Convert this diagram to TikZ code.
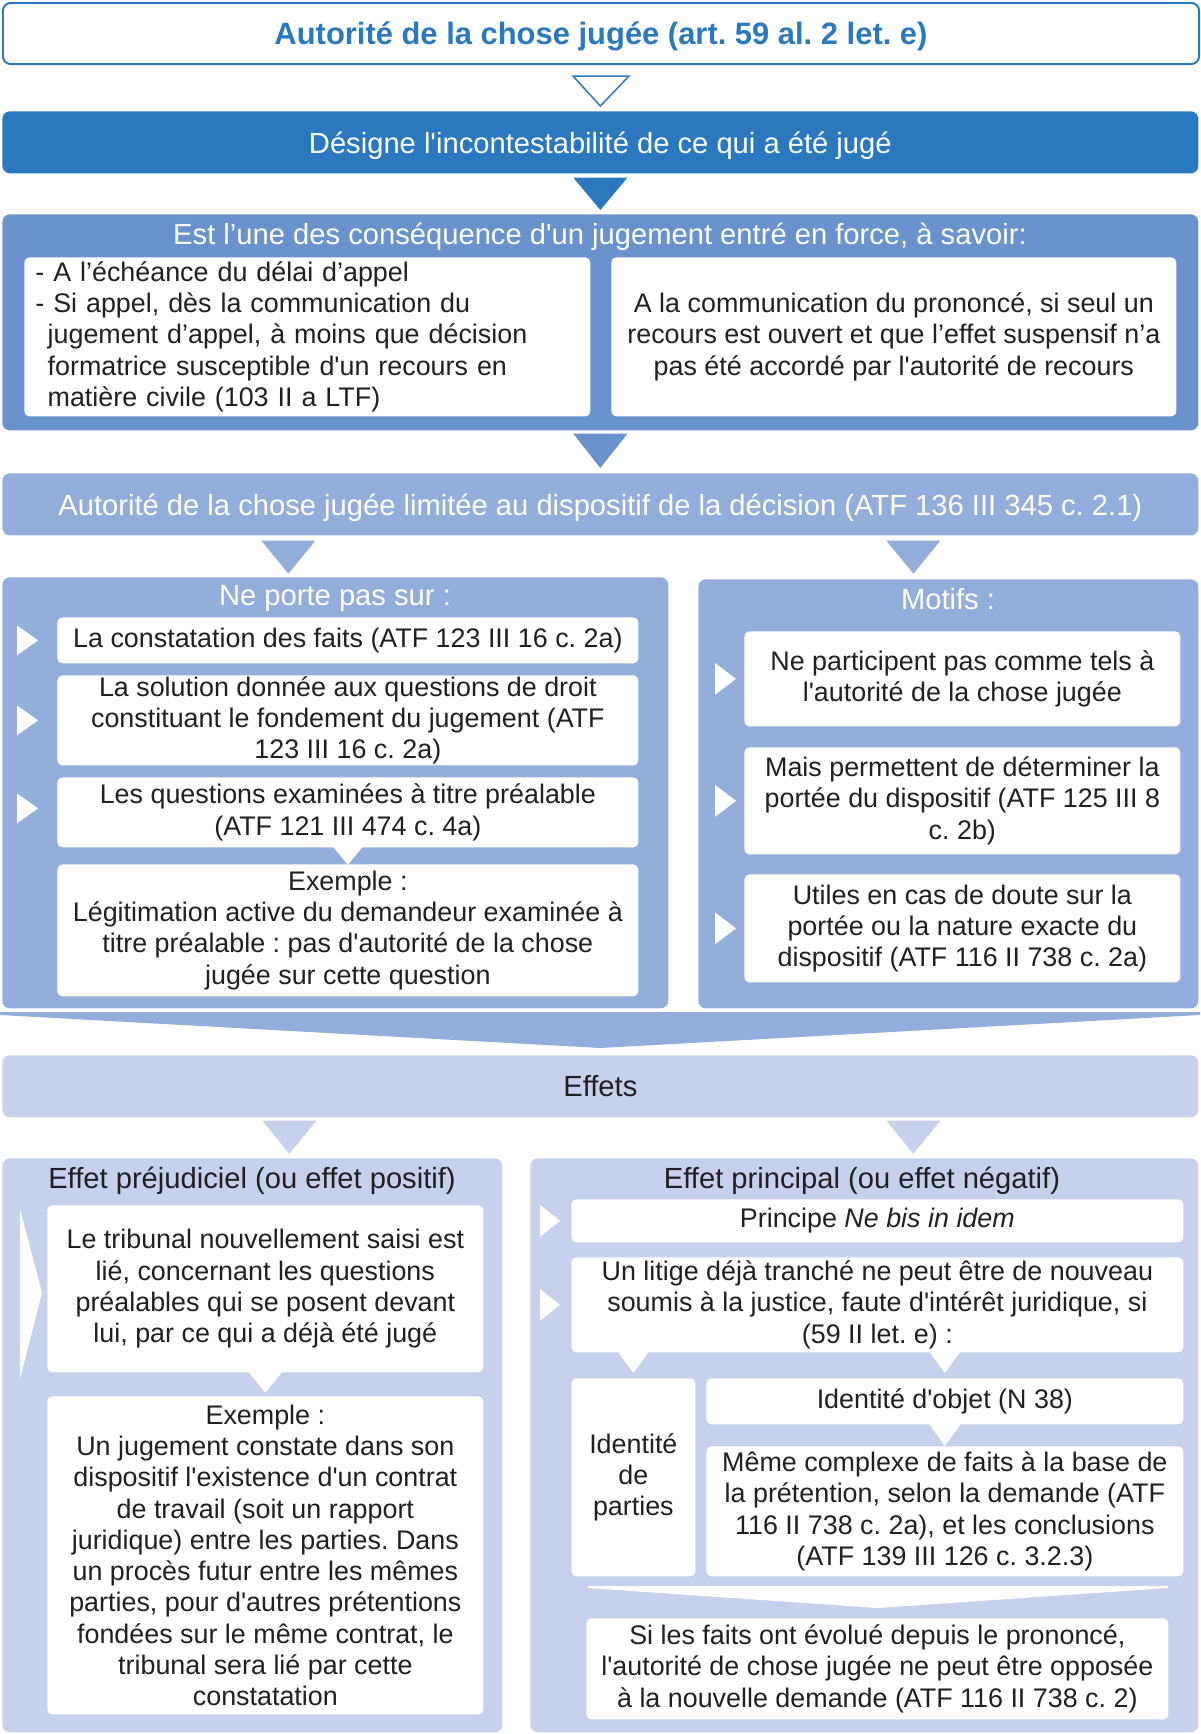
\documentclass[tikz,border=0pt]{standalone}
\usepackage{fontspec}
\setmainfont{Liberation Sans}[Ligatures=TeXOff]
\usepackage{tikz}
\frenchspacing
\newdimen\ux
\ux=0.02cm
\definecolor{deepblue}{HTML}{2A79BE}
\definecolor{midblue}{HTML}{6A92CD}
\definecolor{paleblue}{HTML}{94AEDB}
\definecolor{mistblue}{HTML}{C6D2EB}
\definecolor{ink}{HTML}{231F20}

\begin{document}
\begin{tikzpicture}[x=0.02cm,y=-0.02cm,font=\fontsize{15.3}{17.8}\selectfont,text=ink,
            head/.style={font=\fontsize{16.6}{20}\selectfont},
            whitebox/.style={fill=white,rounded corners=0.1cm,inner sep=0pt,anchor=north west,align=center},
            panel/.style={rounded corners=0.15cm,inner sep=0pt,anchor=north west},
            bar/.style={panel,head,align=center,text depth=0pt,minimum width=1196\ux,minimum height=62\ux}]
            \useasboundingbox (0,0) rectangle (1200,1734);
            \node[bar,minimum height=61\ux,fill=white,draw=deepblue,line width=0.04cm,text=deepblue,font=\fontsize{17.6}{20}\selectfont\bfseries](Title)at(2, 2){Autorité de la chose jugée (art. 59 al. 2 let. e)};
            \node[bar,fill=deepblue,text=white](Desig)at(2, 111){Désigne l'incontestabilité de ce qui a été jugé};
            \node[panel,fill=midblue,minimum width=1196\ux,minimum height=216\ux](Cons)at(2, 214){};
            \node[head,text=white](ConsT)at(600, 237){Est l’une des conséquence d'un jugement entré en force, à savoir:};
            \node[whitebox,align=left,text width=544\ux,inner xsep=11\ux,minimum height=159\ux](ConsL)at(24, 257){- A l’échéance du délai d’appel\\- Si appel, dès la communication du\\\hspace*{7pt}jugement d’appel, à moins que décision\\\hspace*{7pt}formatrice susceptible d'un recours en\\\hspace*{7pt}matière civile (103 II a LTF)};
            \node[whitebox,minimum width=565\ux,minimum height=159\ux](ConsR)at(611, 257){A la communication du prononcé, si seul un\\recours est ouvert et que l’effet suspensif n’a\\pas été accordé par l'autorité de recours};
            \node[bar,fill=paleblue,text=white](Limit)at(2, 473){Autorité de la chose jugée limitée au dispositif de la décision (ATF 136 III 345 c. 2.1)};
            \node[panel,fill=paleblue,minimum width=666\ux,minimum height=431\ux](Porte)at(2, 577){};
            \node[head,text=white](PorteT)at(335, 598){Ne porte pas sur :};
            \node[whitebox,minimum width=581\ux,minimum height=46\ux](P1)at(57, 617){La constatation des faits (ATF 123 III 16 c. 2a)};
            \node[whitebox,minimum width=581\ux,minimum height=90\ux](P2)at(57, 675){La solution donnée aux questions de droit\\constituant le fondement du jugement (ATF\\123 III 16 c. 2a)};
            \node[whitebox,minimum width=581\ux,minimum height=70\ux](P3)at(57, 777){Les questions examinées à titre préalable\\(ATF 121 III 474 c. 4a)};
            \node[whitebox,minimum width=581\ux,minimum height=132\ux](P4)at(57, 864){Exemple :\\Légitimation active du demandeur examinée à\\titre préalable : pas d'autorité de la chose\\jugée sur cette question};
            \node[panel,fill=paleblue,minimum width=500\ux,minimum height=429\ux](Motifs)at(698, 579){};
            \node[head,text=white](MotifsT)at(948, 599){Motifs :};
            \node[whitebox,minimum width=436\ux,minimum height=95\ux](M1)at(744, 631){Ne participent pas comme tels à\\l'autorité de la chose jugée};
            \node[whitebox,minimum width=436\ux,minimum height=107\ux](M2)at(744, 747){Mais permettent de déterminer la\\portée du dispositif (ATF 125 III 8\\c. 2b)};
            \node[whitebox,minimum width=436\ux,minimum height=108\ux](M3)at(744, 874){Utiles en cas de doute sur la\\portée ou la nature exacte du\\dispositif (ATF 116 II 738 c. 2a)};
            \node[bar,fill=mistblue](Effets)at(2, 1055){Effets};
            \node[panel,fill=mistblue,minimum width=500\ux,minimum height=574\ux](Prej)at(2, 1158){};
            \node[head](PrejT)at(252, 1181){Effet préjudiciel (ou effet positif)};
            \node[whitebox,minimum width=436\ux,minimum height=167\ux](E1)at(47, 1205){Le tribunal nouvellement saisi est\\lié, concernant les questions\\préalables qui se posent devant\\lui, par ce qui a déjà été jugé};
            \node[whitebox,minimum width=436\ux,minimum height=318\ux](E2)at(47, 1396){Exemple :\\Un jugement constate dans son\\dispositif l'existence d'un contrat\\de travail (soit un rapport\\juridique) entre les parties. Dans\\un procès futur entre les mêmes\\parties, pour d'autres prétentions\\fondées sur le même contrat, le\\tribunal sera lié par cette\\constatation};
            \node[panel,fill=mistblue,minimum width=668\ux,minimum height=574\ux](Princ)at(530, 1158){};
            \node[head](PrincT)at(862, 1181){Effet principal (ou effet négatif)};
            \node[whitebox,minimum width=612\ux,minimum height=43\ux](Q1)at(571, 1199){Principe \textit{Ne bis in idem}};
            \node[whitebox,minimum width=612\ux,minimum height=95\ux](Q2)at(571, 1257){Un litige déjà tranché ne peut être de nouveau\\soumis à la justice, faute d'intérêt juridique, si\\(59 II let. e) :};
            \node[whitebox,minimum width=124\ux,minimum height=198\ux](Q3)at(571, 1378){Identité\\de\\parties};
            \node[whitebox,minimum width=477\ux,minimum height=46\ux](Q4)at(706, 1378){Identité d'objet (N 38)};
            \node[whitebox,minimum width=477\ux,minimum height=130\ux](Q5)at(706, 1446){Même complexe de faits à la base de\\la prétention, selon la demande (ATF\\116 II 738 c. 2a), et les conclusions\\(ATF 139 III 126 c. 3.2.3)};
            \node[whitebox,minimum width=582\ux,minimum height=101\ux](Q6)at(586, 1618){Si les faits ont évolué depuis le prononcé,\\l'autorité de chose jugée ne peut être opposée\\à la nouvelle demande (ATF 116 II 738 c. 2)};
            \filldraw[fill=white,draw=deepblue,line width=0.03cm]([xshift=-28\ux,yshift=-11\ux]Title.south) -- ([xshift=28\ux,yshift=-11\ux]Title.south) -- ([yshift=5\ux]Desig.north) -- cycle;
            \fill[deepblue]([xshift=-27\ux,yshift=-4\ux]Desig.south) -- ([xshift=27\ux,yshift=-4\ux]Desig.south) -- ([yshift=4\ux]Cons.north) -- cycle;
            \fill[midblue]([xshift=-27\ux,yshift=-3\ux]Cons.south) -- ([xshift=27\ux,yshift=-3\ux]Cons.south) -- ([yshift=5\ux]Limit.north) -- cycle;
            \fill[paleblue]([xshift=-339\ux,yshift=-5\ux]Limit.south) -- ([xshift=-285\ux,yshift=-5\ux]Limit.south) -- ([xshift=-312\ux,yshift=-38\ux]Limit.south) -- cycle;
            \fill[paleblue]([xshift=286\ux,yshift=-5\ux]Limit.south) -- ([xshift=340\ux,yshift=-5\ux]Limit.south) -- ([xshift=313\ux,yshift=-38\ux]Limit.south) -- cycle;
            \fill[paleblue](0, 1012) -- (1200, 1012) -- (1200, 1015) -- ([yshift=7\ux]Effets.north) -- (0, 1015) -- cycle;
            \fill[mistblue]([xshift=-338\ux,yshift=-3\ux]Effets.south) -- ([xshift=-284\ux,yshift=-3\ux]Effets.south) -- ([xshift=-311\ux,yshift=-36\ux]Effets.south) -- cycle;
            \fill[mistblue]([xshift=286\ux,yshift=-3\ux]Effets.south) -- ([xshift=340\ux,yshift=-3\ux]Effets.south) -- ([xshift=313\ux,yshift=-36\ux]Effets.south) -- cycle;
            \fill[white]([xshift=-40\ux,yshift=15\ux]P1.west) -- ([xshift=-19\ux]P1.west) -- ([xshift=-40\ux,yshift=-15\ux]P1.west) -- cycle;
            \fill[white]([xshift=-40\ux,yshift=15\ux]P2.west) -- ([xshift=-19\ux]P2.west) -- ([xshift=-40\ux,yshift=-15\ux]P2.west) -- cycle;
            \fill[white]([xshift=-40\ux,yshift=19\ux]P3.west) -- ([xshift=-19\ux,yshift=4\ux]P3.west) -- ([xshift=-40\ux,yshift=-11\ux]P3.west) -- cycle;
            \fill[white]([xshift=-15\ux,yshift=1\ux]P3.south) -- ([xshift=15\ux,yshift=1\ux]P3.south) -- ([yshift=-17\ux]P3.south) -- cycle;
            \fill[white]([xshift=-29\ux,yshift=16\ux]M1.west) -- ([xshift=-8\ux]M1.west) -- ([xshift=-29\ux,yshift=-16\ux]M1.west) -- cycle;
            \fill[white]([xshift=-29\ux,yshift=16\ux]M2.west) -- ([xshift=-8\ux]M2.west) -- ([xshift=-29\ux,yshift=-16\ux]M2.west) -- cycle;
            \fill[white]([xshift=-29\ux,yshift=16\ux]M3.west) -- ([xshift=-8\ux]M3.west) -- ([xshift=-29\ux,yshift=-16\ux]M3.west) -- cycle;
            \fill[white]([xshift=-27\ux,yshift=80\ux]E1.west) -- ([xshift=-5\ux,yshift=-4\ux]E1.west) -- ([xshift=-27\ux,yshift=-90\ux]E1.west) -- cycle;
            \fill[white]([xshift=-17\ux,yshift=1\ux]E1.south) -- ([xshift=17\ux,yshift=1\ux]E1.south) -- ([yshift=-20\ux]E1.south) -- cycle;
            \fill[white]([xshift=-31\ux,yshift=16\ux]Q1.west) -- ([xshift=-11\ux]Q1.west) -- ([xshift=-31\ux,yshift=-16\ux]Q1.west) -- cycle;
            \fill[white]([xshift=-31\ux,yshift=16\ux]Q2.west) -- ([xshift=-11\ux]Q2.west) -- ([xshift=-31\ux,yshift=-16\ux]Q2.west) -- cycle;
            \fill[white]([xshift=-16\ux,yshift=27\ux]Q3.north) -- ([xshift=16\ux,yshift=27\ux]Q3.north) -- ([yshift=5\ux]Q3.north) -- cycle;
            \fill[white]([xshift=-16\ux,yshift=27\ux]Q4.north) -- ([xshift=16\ux,yshift=27\ux]Q4.north) -- ([yshift=5\ux]Q4.north) -- cycle;
            \fill[white]([xshift=-16\ux,yshift=1\ux]Q4.south) -- ([xshift=16\ux,yshift=1\ux]Q4.south) -- (Q5.north) -- cycle;
            \fill[white](588, 1586) -- (1168, 1586) -- (1168, 1588) -- ([yshift=10\ux]Q6.north) -- (588, 1588) -- cycle;
        \end{tikzpicture}
\end{document}
